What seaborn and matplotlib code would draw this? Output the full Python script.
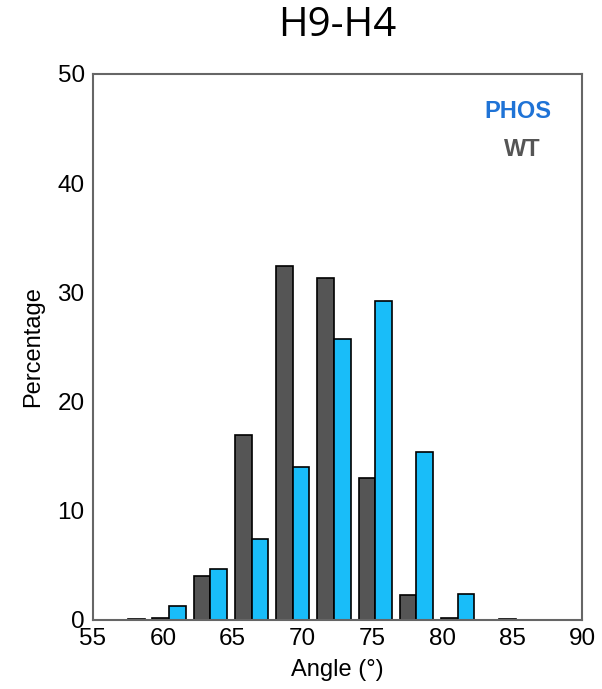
import matplotlib
matplotlib.use("Agg")
import matplotlib.pyplot as plt
import seaborn as sns
import pandas as pd

# Data (bin centres in degrees, percentages)
angles = [57.5, 60.45, 63.4, 66.35, 69.3, 72.25, 75.2, 78.15, 81.1, 84.05]
wt = [None, 0.2, 4.0, 16.9, 32.4, 31.3, 13.0, 2.3, 0.2, None]
phos = [0.05, 1.3, 4.7, 7.4, 14.0, 25.7, 29.2, 15.4, 2.35, 0.05]
groups = ["WT", "PHOS"]
x_ticks = [55, 60, 65, 70, 75, 80, 85, 90]
y_ticks = [0, 10, 20, 30, 40, 50]

rows = []
for a, w, p in zip(angles, wt, phos):
    if w is not None:
        rows.append({"angle": a, "pct": w, "group": "WT"})
    if p is not None:
        rows.append({"angle": a, "pct": p, "group": "PHOS"})
df = pd.DataFrame(rows)

sns.set_theme(style="white")
plt.rcParams["font.family"] = ["Liberation Sans", "DejaVu Sans"]
plt.rcParams["text.color"] = "black"
plt.rcParams["axes.labelcolor"] = "black"
plt.rcParams["xtick.color"] = "black"
plt.rcParams["ytick.color"] = "black"

fig = plt.figure(figsize=(6.02, 6.89), dpi=100)
ax = fig.add_axes([93 / 602, 69 / 689, 489 / 602, 546 / 689])

colors = {"WT": "#555555", "PHOS": "#19bdf9"}
sns.barplot(data=df, x="angle", y="pct", hue="group", hue_order=groups,
            native_scale=True, palette=colors, saturation=1, edgecolor="black",
            linewidth=1.2, width=0.81, legend=False, ax=ax, errorbar=None)

ax.set_xlim(55, 90)
ax.set_ylim(0, 50)
ax.set_xticks(x_ticks)
ax.set_yticks(y_ticks)
ax.tick_params(axis="x", direction="in", length=3, labelsize=17.5, color="#777777",
               labelcolor="black", pad=6)
ax.tick_params(axis="y", direction="out", length=3, labelsize=17.5, color="#777777",
               labelcolor="black", pad=3)
for s in ax.spines.values():
    s.set_color("#666666")
    s.set_linewidth(1.5)

ax.set_xlabel("Angle (°)", fontsize=17, labelpad=6, color="black")
ax.set_ylabel("Percentage", fontsize=17, labelpad=10, color="black")
ax.set_title("H9-H4", fontsize=29, pad=27, color="black",
             family=["Open Sans", "DejaVu Sans"])

ax.text(0.868, 0.932, "PHOS", transform=ax.transAxes, ha="center", va="center",
        fontsize=17, fontweight="bold", color="#1f73d6")
ax.text(0.877, 0.861, "WT", transform=ax.transAxes, ha="center", va="center",
        fontsize=17, fontweight="bold", color="#555555")

fig.savefig("out.png", dpi=100)
